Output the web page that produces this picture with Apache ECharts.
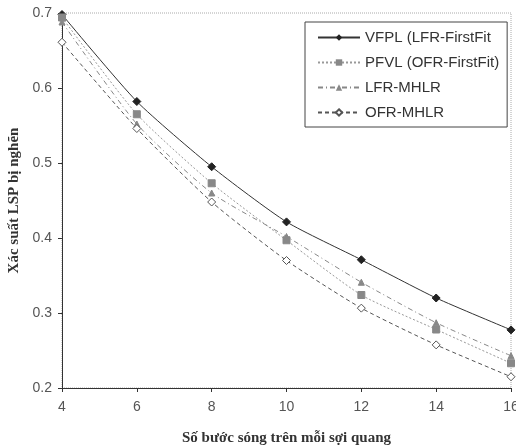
<!DOCTYPE html>
<html>
<head>
<meta charset="utf-8">
<script src="https://cdn.jsdelivr.net/npm/echarts@6/dist/echarts.min.js"></script>
<style>
  html, body { margin: 0; padding: 0; background: #fff; }
  #chart { width: 516px; height: 447px; }
</style>
</head>
<body>
<div id="chart"></div>
<script>
// Number of wavelengths per fiber
const wavelengths = [4, 6, 8, 10, 12, 14, 16];

// Blocking probability per algorithm
const vfplLfrFirstFit = [0.698, 0.582, 0.495, 0.4215, 0.371, 0.320, 0.2775];
const pfvlOfrFirstFit = [0.694, 0.565, 0.473, 0.397, 0.324, 0.278, 0.233];
const lfrMhlr = [0.688, 0.552, 0.460, 0.402, 0.341, 0.287, 0.243];
const ofrMhlr = [0.661, 0.546, 0.448, 0.370, 0.3065, 0.2575, 0.215];

const seriesNames = ['VFPL (LFR-FirstFit', 'PFVL (OFR-FirstFit)', 'LFR-MHLR', 'OFR-MHLR'];

const pairs = (ys) => wavelengths.map((x, i) => [x, ys[i]]);

const chart = echarts.init(document.getElementById('chart'), null, { renderer: 'canvas' });

const tickFont = { fontFamily: 'Liberation Sans, Arial, sans-serif', fontSize: 14, color: '#555' };
const titleFont = { fontFamily: 'Liberation Serif, Times New Roman, serif', fontWeight: 'bold', fontSize: 15, color: '#333' };

chart.setOption({
  animation: false,
  backgroundColor: '#fff',
  grid: {
    left: 62, right: 5, top: 13, bottom: 59,
    outerBoundsMode: 'none',
    containLabel: false,
    show: true,
    borderColor: '#aaa',
    borderWidth: 1,
    borderType: 'dotted'
  },
  legend: {
    left: 305, top: 22,
    orient: 'vertical',
    itemWidth: 42,
    itemHeight: 8,
    itemGap: 10,
    padding: [8, 8, 7, 12],
    borderColor: '#444',
    borderWidth: 1,
    backgroundColor: '#fff',
    textStyle: { fontFamily: 'Liberation Sans, Arial, sans-serif', fontSize: 15, color: '#333' },
    data: seriesNames
  },
  xAxis: {
    type: 'value',
    min: 4, max: 16, interval: 2,
    axisLine: { lineStyle: { color: '#333', width: 1 } },
    axisTick: { show: true, inside: false, length: 4, lineStyle: { color: '#333' } },
    axisLabel: Object.assign({ margin: 12 }, tickFont),
    splitLine: { show: false },
    name: 'Số bước sóng trên mỗi sợi quang',
    nameLocation: 'middle',
    nameGap: 43,
    nameTextStyle: titleFont
  },
  yAxis: {
    type: 'value',
    min: 0.2, max: 0.7, interval: 0.1,
    axisLine: { show: true, lineStyle: { color: '#333', width: 1 } },
    axisTick: { show: true, inside: false, length: 4, lineStyle: { color: '#333' } },
    axisLabel: Object.assign({ margin: 10, formatter: (v) => v.toFixed(1) }, tickFont),
    splitLine: { show: false },
    name: 'Xác suất LSP bị nghẽn',
    nameLocation: 'middle',
    nameGap: 38,
    nameTextStyle: titleFont
  },
  series: [
    {
      name: seriesNames[0], type: 'line', smooth: 0.2,
      data: pairs(vfplLfrFirstFit),
      symbol: 'diamond', symbolSize: 8,
      lineStyle: { color: '#333', width: 1, type: 'solid' },
      itemStyle: { color: '#222', borderColor: '#222' }
    },
    {
      name: seriesNames[1], type: 'line', smooth: 0.2,
      data: pairs(pfvlOfrFirstFit),
      symbol: 'rect', symbolSize: 7,
      lineStyle: { color: '#999', width: 1, type: [2, 2] },
      itemStyle: { color: '#888', borderColor: '#888' }
    },
    {
      name: seriesNames[2], type: 'line', smooth: 0.2,
      data: pairs(lfrMhlr),
      symbol: 'triangle', symbolSize: 6,
      lineStyle: { color: '#888', width: 1, type: [5, 3, 1, 3] },
      itemStyle: { color: '#888', borderColor: '#888' }
    },
    {
      name: seriesNames[3], type: 'line', smooth: 0.2,
      data: pairs(ofrMhlr),
      symbol: 'diamond', symbolSize: 8,
      lineStyle: { color: '#555', width: 1, type: [4, 3] },
      itemStyle: { color: '#fff', borderColor: '#555', borderWidth: 1 }
    }
  ]
});
</script>
</body>
</html>
